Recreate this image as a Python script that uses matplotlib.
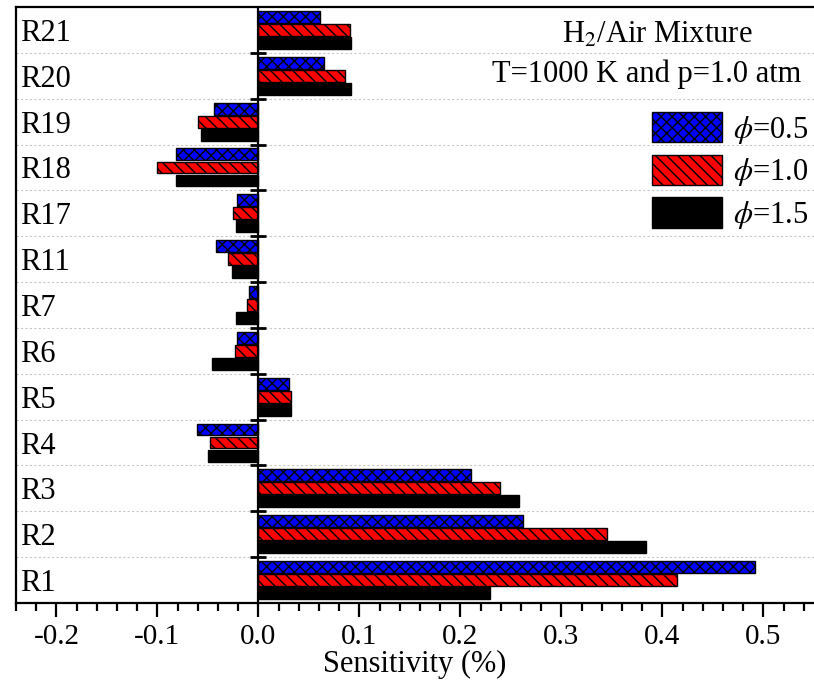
import numpy as np
import matplotlib
matplotlib.use("Agg")
import matplotlib.pyplot as plt

plt.rcParams['font.family'] = ['Liberation Serif', 'DejaVu Serif']
plt.rcParams['mathtext.fontset'] = 'stix'
plt.rcParams['hatch.linewidth'] = 1.0
plt.rcParams['hatch.color'] = 'black'

reactions = ["R1", "R2", "R3", "R4", "R5", "R6", "R7", "R11", "R17", "R18", "R19", "R20", "R21"]
phi05 = [0.492, 0.262, 0.210, -0.061, 0.030, -0.021, -0.009, -0.042, -0.021, -0.082, -0.044, 0.065, 0.061]
phi10 = [0.414, 0.345, 0.239, -0.048, 0.032, -0.023, -0.011, -0.030, -0.025, -0.100, -0.060, 0.086, 0.091]
phi15 = [0.229, 0.384, 0.258, -0.050, 0.032, -0.046, -0.022, -0.026, -0.022, -0.082, -0.057, 0.092, 0.092]
series_labels = [r"$\phi$=0.5", r"$\phi$=1.0", r"$\phi$=1.5"]

fig = plt.figure(figsize=(8.14, 6.89), dpi=100)
ax = fig.add_axes([16/814, 1 - 603/689, 1 - 16/814, 596/689])

y = np.arange(len(reactions))
h = 0.26
step = 0.285
ax.barh(y + step, phi05, height=h, color='#0000ff', edgecolor='black', lw=1,
        hatch='xxx', label=series_labels[0], zorder=3)
ax.barh(y, phi10, height=h, color='#ff0000', edgecolor='black', lw=1,
        hatch='\\\\\\', label=series_labels[1], zorder=3)
ax.barh(y - step, phi15, height=h, color='black', edgecolor='black', lw=1,
        label=series_labels[2], zorder=3)

ax.set_xlim(-0.24, 0.55)
ax.set_ylim(-0.5, len(reactions) - 0.5)

# zero line with its little ticks at the group boundaries
bounds = np.arange(0.5, len(reactions) - 1, 1)
ax.axvline(0, color='black', lw=1.6, zorder=4)
ax.plot(np.zeros(len(bounds)), bounds, ls='none', marker='_', ms=11, mew=2,
        color='black', zorder=5)

ax.set_yticks(y)
ax.set_yticklabels(reactions, fontsize=22)
ax.set_yticks(bounds, minor=True)
ax.tick_params(axis='y', which='both', length=0, pad=-3)
for t in ax.get_yticklabels():
    t.set_horizontalalignment('left')
ax.grid(which='minor', axis='y', color='#c8c8c8', ls=(0, (2, 2)), lw=0.8)

ax.set_xticks(np.arange(-0.2, 0.51, 0.1))
ax.set_xticklabels(["-0.2", "-0.1", "0.0", "0.1", "0.2", "0.3", "0.4", "0.5"], fontsize=21)
ax.set_xticks(np.arange(-0.24, 0.55, 0.02), minor=True)
ax.tick_params(axis='x', which='major', length=10, width=1.6, direction='out', pad=5)
ax.tick_params(axis='x', which='minor', length=6, width=1.6, direction='out')
ax.set_xlabel("Sensitivity (%)", fontsize=22, labelpad=0)

for s in ['left', 'bottom', 'top']:
    ax.spines[s].set_linewidth(1.6)
ax.spines['right'].set_visible(False)

ax.text(0.803, 0.94, "H$_2$/Air Mixture", transform=ax.transAxes, ha='center',
        va='baseline', fontsize=22)
ax.text(0.790, 0.874, "T=1000 K and p=1.0 atm", transform=ax.transAxes, ha='center',
        va='baseline', fontsize=22)

ax.legend(loc='upper right', bbox_to_anchor=(808/814, 1 - 112/689),
          bbox_transform=fig.transFigure, frameon=False, fontsize=22,
          handlelength=2.3, handleheight=1.15, labelspacing=0.3,
          handletextpad=0.35, borderpad=0, borderaxespad=0)

fig.savefig("out.png", dpi=100, facecolor='white')
